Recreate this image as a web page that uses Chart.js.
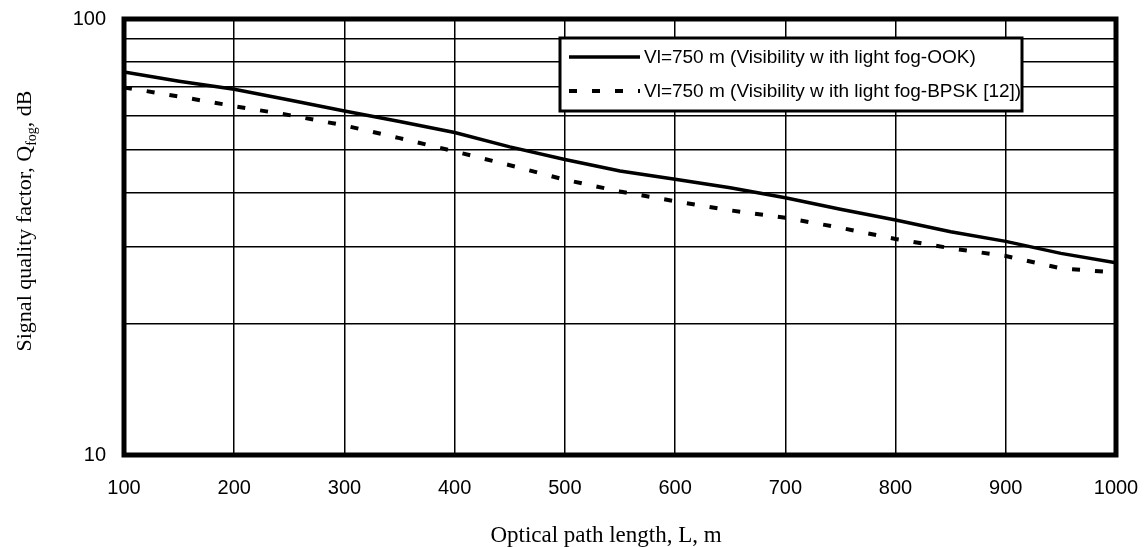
<!DOCTYPE html>
<html>
<head>
<meta charset="utf-8">
<script src="https://cdn.jsdelivr.net/npm/chart.js@4/dist/chart.umd.min.js"></script>
<style>
html,body{margin:0;padding:0;background:#fff;}
#wrap{width:1145px;height:547px;}
</style>
</head>
<body>
<div id="wrap"><canvas id="c" width="1145" height="547"></canvas></div>
<script>
const pathLength = [100,150,200,250,300,350,400,450,500,550,600,650,700,750,800,850,900,950,1000];
const qOOK  = [75.6,72.0,69.0,65.2,61.5,58.2,54.9,50.9,47.6,44.8,42.9,41.0,38.9,36.6,34.6,32.5,30.9,29.0,27.6];
const qBPSK = [69.7,66.4,63.1,60.2,57.0,53.3,49.7,46.2,42.8,40.2,38.2,36.4,35.0,33.2,31.3,29.8,28.6,26.8,26.2];
const seriesLabels = ["Vl=750 m (Visibility w ith light fog-OOK)", "Vl=750 m (Visibility w ith light fog-BPSK [12])"];
const yGridValues = [10,20,30,40,50,60,70,80,90,100];
const yTickLabels = [10, 100];
const xTitle = "Optical path length, L, m";
const yTitleParts = ["Signal quality factor, Q", "fog", ", dB"];

const sans = "'Liberation Sans', Arial, sans-serif";
const serif = "'Liberation Serif', 'Times New Roman', serif";

const toXY = (arr) => arr.map((v,i) => ({x: pathLength[i], y: v}));

const framePlugin = {
  id: 'frame',
  afterDraw(chart) {
    const ctx = chart.ctx;
    const a = chart.chartArea;
    ctx.save();
    ctx.strokeStyle = '#000';
    ctx.lineWidth = 5;
    ctx.strokeRect(a.left, a.top, a.right - a.left, a.bottom - a.top);

    // legend
    const lx = 560, ly = 38, lw = 462, lh = 73;
    ctx.fillStyle = '#fff';
    ctx.fillRect(lx, ly, lw, lh);
    ctx.lineWidth = 3;
    ctx.strokeStyle = '#000';
    ctx.strokeRect(lx, ly, lw, lh);
    const rows = [57, 91];
    chart.data.datasets.forEach((ds, i) => {
      const y = rows[i];
      ctx.save();
      ctx.strokeStyle = ds.borderColor;
      ctx.lineWidth = ds.borderWidth;
      ctx.setLineDash(ds.borderDash || []);
      ctx.lineCap = 'butt';
      ctx.beginPath();
      ctx.moveTo(569, y);
      ctx.lineTo(640, y);
      ctx.stroke();
      ctx.restore();
      ctx.fillStyle = '#000';
      ctx.font = '19px ' + sans;
      ctx.textBaseline = 'middle';
      ctx.textAlign = 'left';
      ctx.fillText(ds.label, 644, y + 1);
    });

    // x title
    ctx.fillStyle = '#000';
    ctx.font = '23px ' + serif;
    ctx.textAlign = 'center';
    ctx.textBaseline = 'alphabetic';
    ctx.fillText(xTitle, 606, 542);

    // y title with subscript
    const fMain = '22px ' + serif, fSub = '14px ' + serif;
    ctx.font = fMain;
    const w0 = ctx.measureText(yTitleParts[0]).width;
    const w2 = ctx.measureText(yTitleParts[2]).width;
    ctx.font = fSub;
    const w1 = ctx.measureText(yTitleParts[1]).width;
    const total = w0 + w1 + w2;
    ctx.translate(31, 221);
    ctx.rotate(-Math.PI / 2);
    ctx.textAlign = 'left';
    let x0 = -total / 2;
    ctx.font = fMain;
    ctx.fillText(yTitleParts[0], x0, 0);
    ctx.font = fSub;
    ctx.fillText(yTitleParts[1], x0 + w0, 5);
    ctx.font = fMain;
    ctx.fillText(yTitleParts[2], x0 + w0 + w1, 0);
    ctx.restore();
  }
};

new Chart(document.getElementById('c'), {
  type: 'line',
  data: {
    datasets: [
      {
        label: seriesLabels[0],
        data: toXY(qOOK),
        borderColor: '#000',
        borderWidth: 3.5,
        pointRadius: 0,
        tension: 0,
        fill: false
      },
      {
        label: seriesLabels[1],
        data: toXY(qBPSK),
        borderColor: '#000',
        borderWidth: 4,
        borderDash: [8, 15],
        borderCapStyle: 'butt',
        pointRadius: 0,
        tension: 0,
        fill: false
      }
    ]
  },
  options: {
    responsive: false,
    devicePixelRatio: 1,
    animation: false,
    layout: { padding: { top: 19, right: 29, left: 0, bottom: 0 } },
    plugins: { legend: { display: false }, tooltip: { enabled: false }, title: { display: false } },
    scales: {
      x: {
        type: 'linear',
        min: 100,
        max: 1000,
        ticks: {
          stepSize: 100,
          color: '#000',
          font: { family: sans, size: 20 },
          padding: 21,
          maxRotation: 0,
          autoSkip: false,
          callback: (v) => String(v)
        },
        grid: { color: '#000', lineWidth: 1.5, drawTicks: false },
        border: { display: false },
        afterFit(scale) {
          scale.height = 92;
          scale.paddingLeft = 0; scale.paddingRight = 0;
        }
      },
      y: {
        type: 'logarithmic',
        min: 10,
        max: 100,
        afterBuildTicks(scale) {
          scale.ticks = yGridValues.map(v => ({ value: v, major: false }));
        },
        ticks: {
          color: '#000',
          font: { family: sans, size: 20 },
          padding: 18,
          autoSkip: false,
          callback: (v) => yTickLabels.includes(v) ? String(v) : ''
        },
        grid: { color: '#000', lineWidth: 1.5, drawTicks: false },
        border: { display: false },
        afterFit(scale) {
          scale.width = 124;
          scale.paddingTop = 0; scale.paddingBottom = 0;
        }
      }
    }
  },
  plugins: [framePlugin]
});
</script>
</body>
</html>
